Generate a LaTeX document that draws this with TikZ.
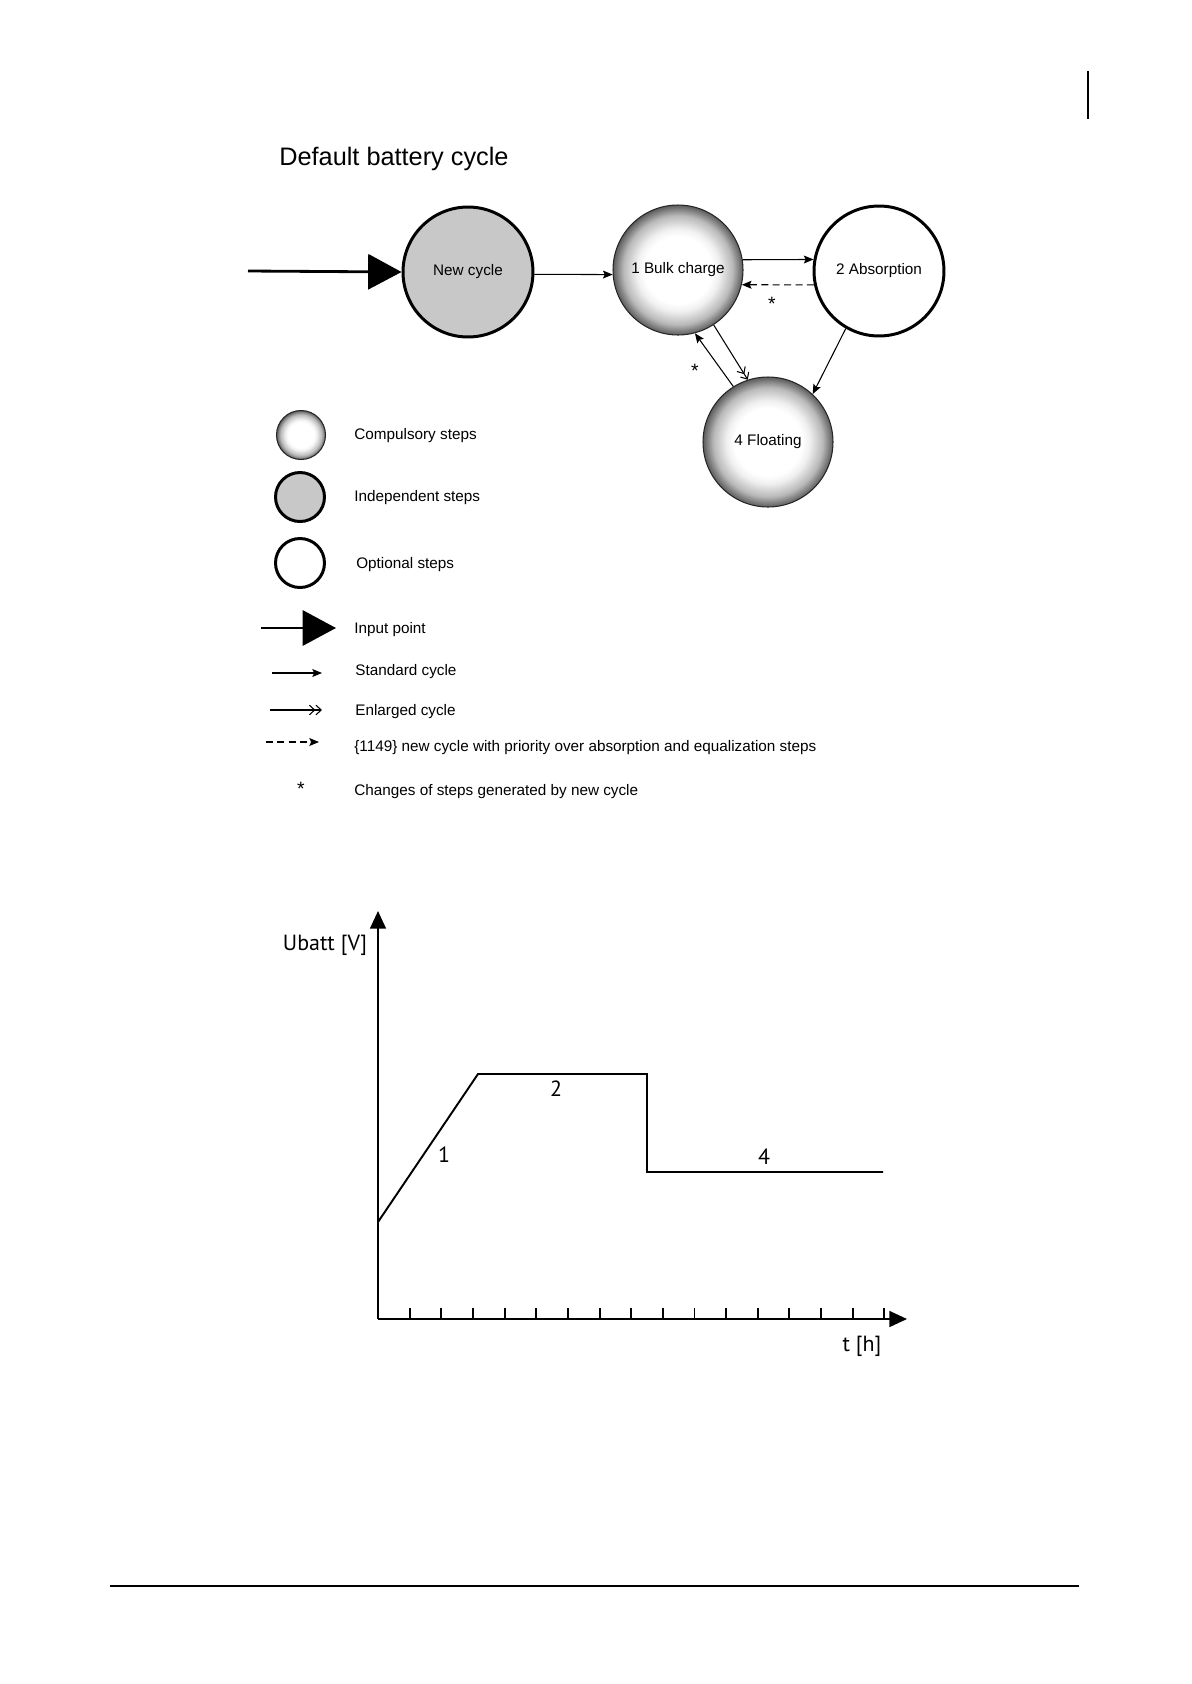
\documentclass[tikz,border=0pt]{standalone}
\usepackage{fontspec}
\setmainfont{Liberation Sans}
\newfontfamily\plotfont{PT Sans}
\usepackage{tikz}
\usetikzlibrary{arrows.meta}
\definecolor{StepGray}{RGB}{200,200,200}
\definecolor{RimGray}{RGB}{92,92,92}
\pgfdeclareradialshading{bulb}{\pgfpointorigin}{color(0bp)=(white); color(13bp)=(white); color(16bp)=(gray!12); color(21bp)=(gray!55); color(25bp)=(RimGray); color(50bp)=(RimGray)}
\tikzset{
  stepbase/.style={circle, inner sep=0pt, align=center, font=\fontsize{8.7}{10}\selectfont},
  compstep/.style={stepbase, draw=black!85, line width=0.6pt, shading=bulb},
  indepstep/.style={stepbase, draw=black, line width=1.7pt, fill=StepGray},
  optstep/.style={stepbase, draw=black, line width=1.7pt, fill=white},
  bigstep/.style={minimum size=2.6cm},
  legstep/.style={minimum size=0.98cm},
  inarr/.style={line width=1.6pt, -{Triangle[length=19pt, width=20pt]}},
  stdarr/.style={line width=0.6pt, -{Stealth[length=5.5pt, width=4.5pt, inset=1pt]}},
  bigarr/.style={line width=0.6pt, -{Straight Barb[length=3pt, width=5.5pt] Straight Barb[length=3pt, width=5.5pt]}},
  prioarr/.style={stdarr, dash pattern=on 4pt off 2.5pt},
  legtxt/.style={anchor=west, inner sep=0pt, font=\fontsize{8.7}{10}\selectfont},
  asterisk/.style={inner sep=0pt, font=\fontsize{11}{12}\selectfont},
  titletxt/.style={anchor=west, inner sep=0pt, font=\fontsize{14.4}{16}\selectfont},
  plotaxis/.style={line width=1.1pt, -{Triangle[length=10pt, width=9pt]}},
  plotline/.style={line width=1.1pt, line join=miter},
  plotlab/.style={inner sep=0pt, font=\plotfont\fontsize{12.5}{14}\selectfont},
}

\begin{document}
\begin{tikzpicture}[x=0.02cm, y=-0.02cm, >=Stealth]
  \useasboundingbox (0,0) rectangle (1191,1684);

  % page rules
  \coordinate (bar1) at (1088,71); \coordinate (bar2) at (1088,119);
  \draw[line width=1pt] (bar1) -- (bar2);
  \coordinate (rule1) at (110,1586); \coordinate (rule2) at (1079,1586);
  \draw[line width=0.8pt] (rule1) -- (rule2);

  \node[titletxt] (title) at (279,159) {Default battery cycle};

  % cycle
  \node[indepstep, bigstep] (new) at (468,272) {New cycle};
  \node[compstep, bigstep] (bulk) at (678,270) {1 Bulk charge};
  \node[optstep, bigstep] (abs) at (879,271) {2 Absorption};
  \node[compstep, bigstep] (float) at (768,442) {4 Floating};

  \coordinate (entry) at (248,271);
  \draw[inarr] (entry) -- (new.west);
  \draw[stdarr] (new.-2) -- (bulk.184);
  \draw[stdarr] (bulk.9) -- (abs.170);
  \draw[prioarr] (abs.-168) -- (bulk.-13);
  \draw[bigarr] (bulk.-57) -- (float.108);
  \draw[stdarr] (float.122) -- (bulk.-75);
  \draw[stdarr] (abs.-120) -- (float.47);
  \node[asterisk] (st1) at (772,304) {*};
  \node[asterisk] (st2) at (695,371) {*};

  % legend
  \node[compstep, legstep] (lcomp) at (301,435) {};
  \node[legtxt] (tcomp) at (354,436) {Compulsory steps};
  \node[indepstep, legstep] (lind) at (300,497) {};
  \node[legtxt] (tind) at (354,498) {Independent steps};
  \node[optstep, legstep] (lopt) at (300,563) {};
  \node[legtxt] (topt) at (356,565) {Optional steps};

  \coordinate (in1) at (261,628); \coordinate (in2) at (336,628);
  \draw[inarr] (in1) -- (in2);
  \node[legtxt] (tin) at (354,630) {Input point};
  \coordinate (sd1) at (272,673); \coordinate (sd2) at (322,673);
  \draw[stdarr] (sd1) -- (sd2);
  \node[legtxt] (tsd) at (355,672) {Standard cycle};
  \coordinate (en1) at (270,710); \coordinate (en2) at (322,710);
  \draw[bigarr] (en1) -- (en2);
  \node[legtxt] (ten) at (355,712) {Enlarged cycle};
  \coordinate (pr1) at (266,742); \coordinate (pr2) at (319,742);
  \draw[prioarr] (pr1) -- (pr2);
  \node[legtxt] (tpr) at (354,748) {\{1149\} new cycle with priority over absorption and equalization steps};
  \node[asterisk] (lst) at (301,789) {*};
  \node[legtxt] (tst) at (354,792) {Changes of steps generated by new cycle};

  % charge curve
  \coordinate (o) at (378,1319);
  \coordinate (ytop) at (378,911);
  \coordinate (xend) at (907,1319);
  \draw[plotaxis] (o) -- (ytop);
  \draw[plotaxis] (o) -- (xend);
  \foreach \k in {1,...,16} {\draw[line width=1.1pt] (378+31.65*\k,1319) -- ++(0,-11);}
  \draw[plotline] (378,1222) -- (478,1074) -- (647,1074) -- (647,1172) -- (883,1172);
  \node[plotlab] (ph1) at (444,1155) {1};
  \node[plotlab] (ph2) at (556,1089) {2};
  \node[plotlab] (ph4) at (764,1157) {4};
  \node[plotlab] (ylab) at (325,945) {Ubatt [V]};
  \node[plotlab] (xlab) at (862,1346) {t [h]};
\end{tikzpicture}
\end{document}
